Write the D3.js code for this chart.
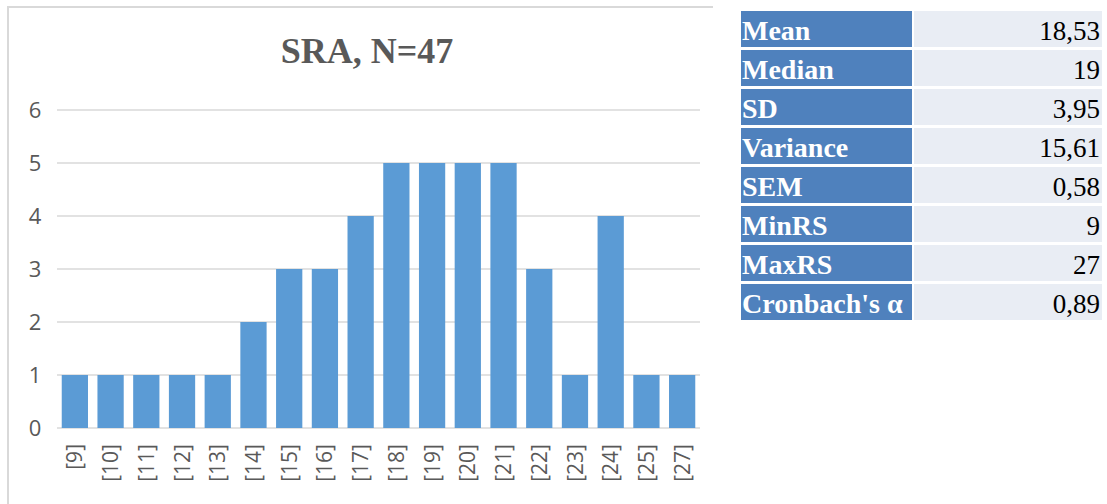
<!DOCTYPE html>
<html><head><meta charset="utf-8">
<script src="https://cdn.jsdelivr.net/npm/d3@7"></script>
<style>body{margin:0;background:#fff;}svg{display:block;}</style>
</head><body>
<svg id="c" width="1107" height="504"></svg>
<script>
const categories = ["[9]","[10]","[11]","[12]","[13]","[14]","[15]","[16]","[17]","[18]","[19]","[20]","[21]","[22]","[23]","[24]","[25]","[27]"];
const counts = [1,1,1,1,1,2,3,3,4,5,5,5,5,3,1,4,1,1];
const yTicks = [0,1,2,3,4,5,6];
const title = "SRA, N=47";
const statLabels = ["Mean","Median","SD","Variance","SEM","MinRS","MaxRS","Cronbach's α"];
const statValues = ["18,53","19","3,95","15,61","0,58","9","27","0,89"];

const svg = d3.select("#c");
// chart frame
svg.append("path").attr("d","M8,520 V7 H713").attr("fill","none").attr("stroke","#d9d9d9").attr("stroke-width",2);

svg.append("text").attr("x",367).attr("y",63).attr("text-anchor","middle")
  .attr("font-family","Liberation Serif, Times New Roman, serif").attr("font-weight","bold")
  .attr("font-size",36).attr("fill","#595959").text(title);

const x = d3.scaleBand().domain(categories).range([57,700]).paddingInner(0.265).paddingOuter(0.1325);
const y = d3.scaleLinear().domain([0,6]).range([428,110]);

const g = svg.append("g");
g.selectAll("line.grid").data(yTicks).join("line")
  .attr("x1",57).attr("x2",700).attr("y1",d=>y(d)).attr("y2",d=>y(d))
  .attr("stroke","#d9d9d9").attr("stroke-width",1.5);

g.selectAll("text.yt").data(yTicks).join("text")
  .attr("x",35).attr("y",d=>y(d)).attr("dy","0.36em").attr("text-anchor","middle")
  .attr("font-family","Open Sans, sans-serif").attr("font-size",22).attr("fill","#595959").text(d=>d);

g.selectAll("rect").data(categories).join("rect")
  .attr("x",d=>x(d)).attr("width",x.bandwidth())
  .attr("y",(d,i)=>y(counts[i])).attr("height",(d,i)=>y(0)-y(counts[i]))
  .attr("fill","#5b9bd5");

g.selectAll("text.xt").data(categories).join("text")
  .attr("transform",d=>`translate(${x(d)+x.bandwidth()/2},444) rotate(-90)`)
  .attr("text-anchor","end").attr("dy","0.36em")
  .attr("font-family","Open Sans, sans-serif").attr("font-size",21).attr("fill","#595959").text(d=>d);

// stats table
const t = svg.append("g");
const rowY = i => 11 + i*39;
t.selectAll("rect.l").data(statLabels).join("rect")
  .attr("x",741).attr("y",(d,i)=>rowY(i)).attr("width",171).attr("height",36).attr("fill","#4f81bd");
t.selectAll("rect.v").data(statValues).join("rect")
  .attr("x",914).attr("y",(d,i)=>rowY(i)).attr("width",188).attr("height",36).attr("fill","#e9edf4");
t.selectAll("text.l").data(statLabels).join("text")
  .attr("x",742).attr("y",(d,i)=>rowY(i)+29)
  .attr("font-family","Liberation Serif, Times New Roman, serif").attr("font-weight","bold")
  .attr("font-size",28).attr("fill","#fff").text(d=>d);
t.selectAll("text.v").data(statValues).join("text")
  .attr("x",1100).attr("y",(d,i)=>rowY(i)+29).attr("text-anchor","end")
  .attr("font-family","Liberation Serif, Times New Roman, serif")
  .attr("font-size",27).attr("fill","#000").text(d=>d);
</script>
</body></html>
